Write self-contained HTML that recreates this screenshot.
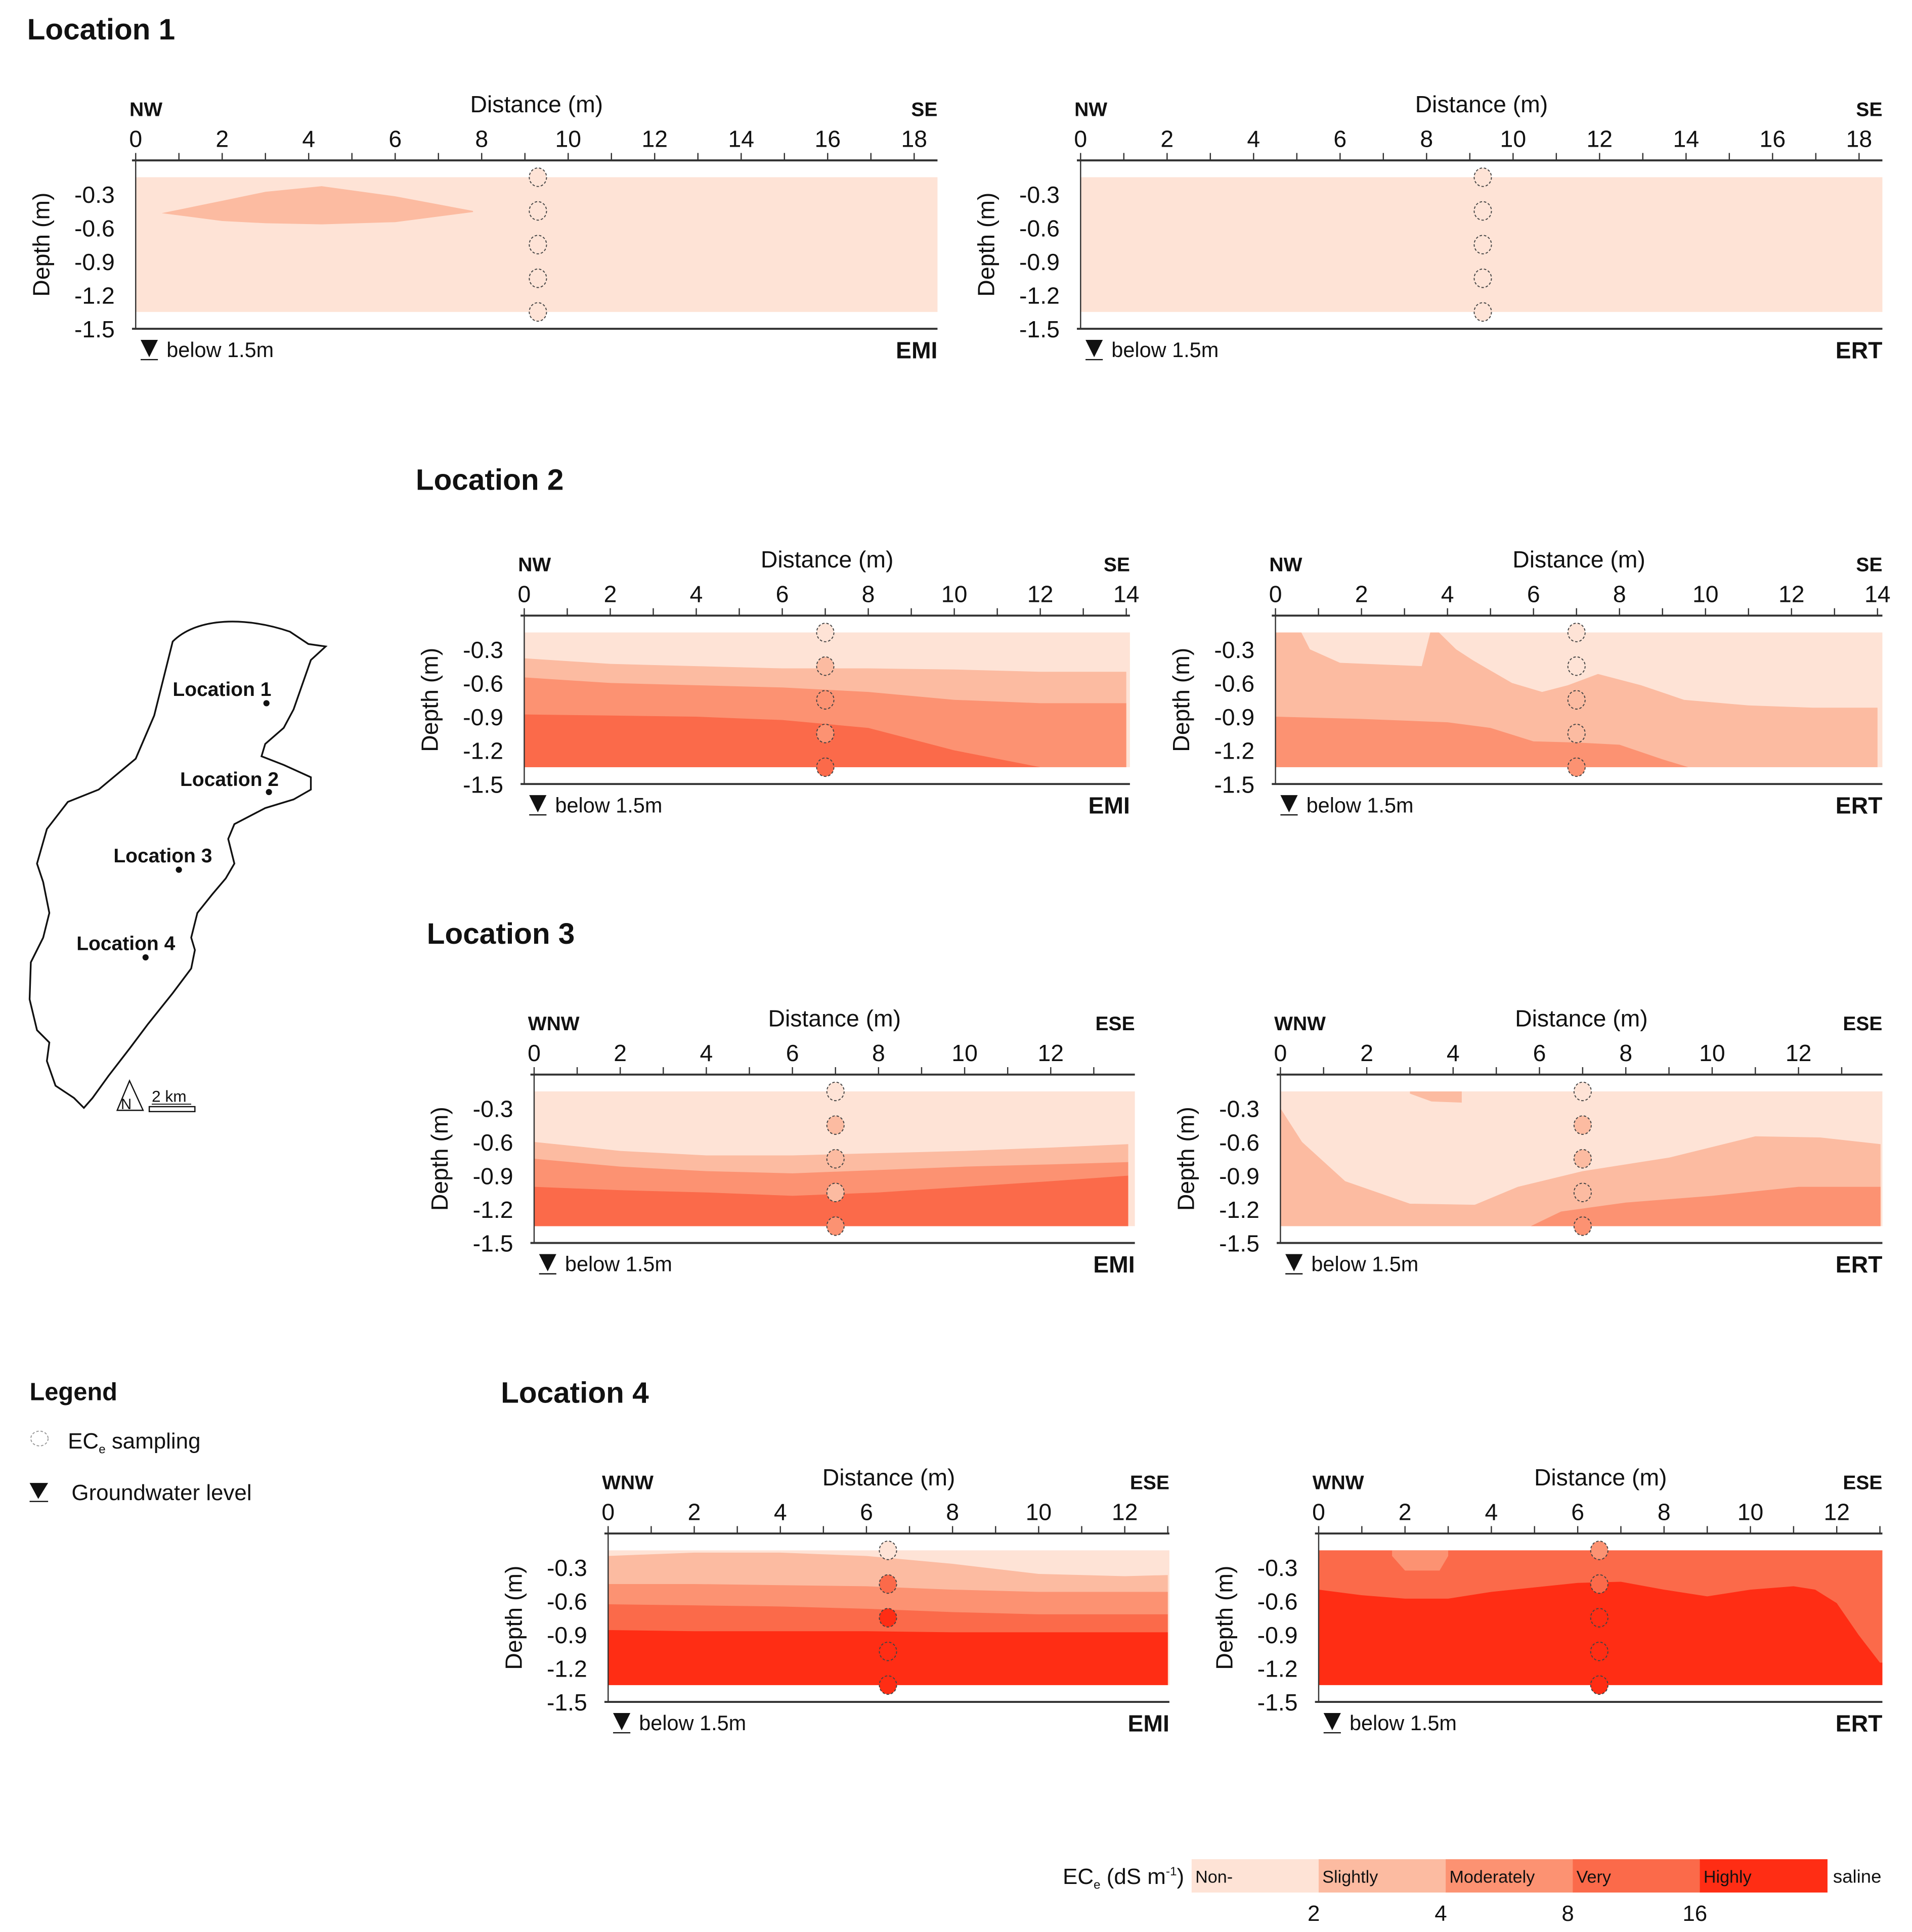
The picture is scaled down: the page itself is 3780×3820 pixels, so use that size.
<!DOCTYPE html>
<html><head><meta charset="utf-8">
<style>
html,body{margin:0;padding:0;background:#fff;}
svg{display:block;font-family:"Liberation Sans",Arial,sans-serif;}
</style></head>
<body>
<svg id="fig" width="3780" height="3820" viewBox="0 0 1550 1566" preserveAspectRatio="none" xmlns="http://www.w3.org/2000/svg"></svg>
<script>
// ---- data ----
const classNames = ["Non-","Slightly","Moderately","Very","Highly"];
const classColors = ["#fee3d6","#fcbba1","#fc9272","#fb6a4a","#ff2d14"];
const classThresholds = ["2","4","8","16"];
const depthTicks = [-0.3,-0.6,-0.9,-1.2,-1.5];
const sampleDepths = [-0.15,-0.45,-0.75,-1.05,-1.35];

// Location 1
const l1EmiLensXs = [0.6,2,3,4.3,6,7.8];
const l1EmiLensTop = [-0.47,-0.36,-0.28,-0.23,-0.32,-0.45];
const l1EmiLensBottom = [-0.47,-0.54,-0.56,-0.57,-0.55,-0.46];
const l1SampleClass = [0,0,0,0,0];

// Location 2 EMI
const l2EmiXs = [0,2,4,6,8,10,12,14];
const l2EmiSlight = [-0.38,-0.43,-0.45,-0.47,-0.47,-0.48,-0.5,-0.5];
const l2EmiModerate = [-0.55,-0.6,-0.62,-0.64,-0.68,-0.75,-0.78,-0.78];
const l2EmiVery = [-0.88,-0.89,-0.9,-0.93,-1.0,-1.2,-1.35,-1.35];
const l2EmiSampleClass = [0,1,2,2,3];
// Location 2 ERT
const l2ErtSlightXs = [0,0.6,0.8,1.5,3.4,3.6,3.8,4.2,4.6,5.5,6.2,6.8,7.5,8.5,9.5,11,12.5,14];
const l2ErtSlight = [-0.15,-0.15,-0.3,-0.42,-0.45,-0.15,-0.15,-0.3,-0.4,-0.6,-0.68,-0.62,-0.52,-0.62,-0.75,-0.8,-0.82,-0.82];
const l2ErtModXs = [0,2,4,5,6,7,8,9,9.6,14];
const l2ErtModerate = [-0.9,-0.92,-0.95,-1.0,-1.12,-1.13,-1.15,-1.28,-1.35,-1.35];
const l2ErtSampleClass = [0,0,1,1,2];

// Location 3 EMI
const l3EmiXs = [0,2,4,6,8,10,12,13.8];
const l3EmiSlight = [-0.6,-0.68,-0.72,-0.72,-0.7,-0.68,-0.65,-0.62];
const l3EmiModerate = [-0.75,-0.82,-0.86,-0.88,-0.85,-0.82,-0.8,-0.78];
const l3EmiVery = [-1.0,-1.03,-1.05,-1.08,-1.05,-1.0,-0.95,-0.9];
const l3EmiSampleClass = [0,1,1,1,2];
// Location 3 ERT
const l3ErtSlightXs = [0,0.5,1.5,3,4.5,5.5,7,9,11,12.5,13.9];
const l3ErtSlight = [-0.3,-0.6,-0.95,-1.15,-1.16,-1.0,-0.86,-0.74,-0.55,-0.56,-0.62];
const l3ErtLensXs = [3,3.5,4.2];
const l3ErtLensTop = [-0.15,-0.15,-0.15];
const l3ErtLensBottom = [-0.17,-0.24,-0.25];
const l3ErtModXs = [5.8,6.5,8,10,12,13.9];
const l3ErtModerate = [-1.35,-1.22,-1.14,-1.08,-1.0,-1.0];
const l3ErtSampleClass = [0,1,1,1,2];

// Location 4 EMI
const l4EmiXs = [0,2,4,6,8,10,12,13];
const l4EmiSlight = [-0.2,-0.17,-0.17,-0.2,-0.27,-0.36,-0.38,-0.37];
const l4EmiModerate = [-0.45,-0.45,-0.46,-0.47,-0.5,-0.52,-0.52,-0.52];
const l4EmiVery = [-0.63,-0.64,-0.65,-0.67,-0.7,-0.72,-0.72,-0.72];
const l4EmiHighly = [-0.86,-0.87,-0.87,-0.87,-0.88,-0.88,-0.88,-0.88];
const l4EmiSampleClass = [0,3,4,4,4];
// Location 4 ERT
const l4ErtHighXs = [0,1,2,3,4,5,6,7,8,9,10,11,11.5,12,12.5,13,13.5];
const l4ErtHighly = [-0.5,-0.55,-0.58,-0.58,-0.52,-0.48,-0.44,-0.43,-0.5,-0.56,-0.5,-0.47,-0.5,-0.62,-0.9,-1.15,-1.15];
const l4ErtBlobXs = [1.7,2.0,2.8,3.0];
const l4ErtBlobTop = [-0.15,-0.15,-0.15,-0.15];
const l4ErtBlobBottom = [-0.2,-0.33,-0.33,-0.2];
const l4ErtSampleClass = [2,3,4,4,4];

// ---- drawing ----
const NS="http://www.w3.org/2000/svg";
const svg=document.getElementById('fig');
function mk(tag,attrs,parent){const e=document.createElementNS(NS,tag);for(const k in attrs)e.setAttribute(k,attrs[k]);(parent||svg).appendChild(e);return e;}
function txt(s,x,y,size,opts,parent){opts=opts||{};const t=mk('text',{x:x,y:y,'font-size':size,'text-anchor':opts.anchor||'start','font-weight':opts.bold?'bold':'normal',fill:'#111'},parent);if(opts.rot)t.setAttribute('transform','rotate(-90 '+x+' '+y+')');t.textContent=s;return t;}

function panel(cfg){
  const g=mk('g',{});
  
  
  const X=v=>cfg.x0+v*cfg.pxm;
  const Y=d=>cfg.y0-d*91;
  const xEnd=cfg.xEnd;
  const base=mk('rect',{x:X(0),y:Y(-0.15),width:xEnd-X(0),height:Y(-1.35)-Y(-0.15),fill:classColors[0]},g);
  
  
  cfg.layers.forEach(L=>{
    let pts=[];
    if(L.bottom){
      L.xs.forEach((x,i)=>pts.push([X(x),Y(L.top[i])]));
      for(let i=L.xs.length-1;i>=0;i--)pts.push([X(L.xs[i]),Y(L.bottom[i])]);
    }else{
      L.xs.forEach((x,i)=>pts.push([Math.min(X(x),xEnd),Y(L.top[i])]));
      pts.push([Math.min(X(L.xs[L.xs.length-1]),xEnd),Y(-1.35)]);
      pts.push([X(L.xs[0]),Y(-1.35)]);
    }
    const p=mk('polygon',{points:pts.map(p=>p.join(',')).join(' '),fill:classColors[L.cls]},g);
    
    
  });
  mk('line',{x1:X(0)-3,y1:cfg.y0,x2:xEnd,y2:cfg.y0,stroke:'#333','stroke-width':1.6},g);
  mk('line',{x1:X(0)-3,y1:Y(-1.5),x2:xEnd,y2:Y(-1.5),stroke:'#333','stroke-width':1.6},g);
  mk('line',{x1:X(0),y1:cfg.y0,x2:X(0),y2:Y(-1.5),stroke:'#333','stroke-width':1},g);
  for(let m=0;X(m)<=xEnd+0.5;m++){
    mk('line',{x1:X(m),y1:cfg.y0,x2:X(m),y2:cfg.y0-6,stroke:'#333','stroke-width':1},g);
    if(m%2===0){const t=txt(String(m),X(m),cfg.y0-11,19,{anchor:'middle'},g);}
  }
  depthTicks.forEach(d=>{const t=txt(d.toFixed(1),X(0)-17,Y(d)+7,19,{anchor:'end'},g);});
  const xt=txt('Distance (m)',(X(0)+xEnd)/2,cfg.y0-39,19,{anchor:'middle'},g);
  
  const yt=txt('Depth (m)',X(0)-70,Y(-0.75),19,{anchor:'middle',rot:true},g);
  
  const dl=txt(cfg.dirL,X(0)-5,cfg.y0-36,16,{bold:true},g);
  const dr=txt(cfg.dirR,xEnd,cfg.y0-36,16,{anchor:'end',bold:true},g);
  const gy=Y(-1.5)+17;
  const tri=mk('polygon',{points:(X(0)+4)+','+(gy-8)+' '+(X(0)+18)+','+(gy-8)+' '+(X(0)+11)+','+(gy+6),fill:'#111'},g);
  
  mk('line',{x1:X(0)+4,y1:gy+8,x2:X(0)+18,y2:gy+8,stroke:'#111','stroke-width':1},g);
  const bl=txt('below 1.5m',X(0)+25,gy+6,17,{},g);
  const mt=txt(cfg.method,xEnd,gy+7,19,{anchor:'end',bold:true},g);
  sampleDepths.forEach((d,i)=>{
    const c=mk('ellipse',{cx:X(cfg.sx),cy:Y(d),rx:7,ry:7.5,fill:classColors[cfg.samples[i]],stroke:'#444','stroke-width':0.8,'stroke-dasharray':'2,1.5'},g);
    
    
  });
}

function title(s,x,y){const t=txt(s,x,y,24,{bold:true});}
title('Location 1',22,32);title('Location 2',337,397);title('Location 3',346,765);title('Location 4',406,1137);

panel({name:'location1-emi-profile',x0:110,pxm:35.06,y0:130,xEnd:760,dirL:'NW',dirR:'SE',method:'EMI',sx:9.3,samples:l1SampleClass,
 layers:[{xs:l1EmiLensXs,top:l1EmiLensTop,bottom:l1EmiLensBottom,cls:1,label:'slightly-saline-zone'}]});
panel({name:'location1-ert-profile',x0:876,pxm:35.06,y0:130,xEnd:1526,dirL:'NW',dirR:'SE',method:'ERT',sx:9.3,samples:l1SampleClass,layers:[]});

panel({name:'location2-emi-profile',x0:425,pxm:34.86,y0:499,xEnd:916,dirL:'NW',dirR:'SE',method:'EMI',sx:7,samples:l2EmiSampleClass,
 layers:[{xs:l2EmiXs,top:l2EmiSlight,cls:1,label:'slightly-saline-zone'},{xs:l2EmiXs,top:l2EmiModerate,cls:2,label:'moderately-saline-zone'},{xs:l2EmiXs,top:l2EmiVery,cls:3,label:'very-saline-zone'}]});
panel({name:'location2-ert-profile',x0:1034,pxm:34.86,y0:499,xEnd:1526,dirL:'NW',dirR:'SE',method:'ERT',sx:7,samples:l2ErtSampleClass,
 layers:[{xs:l2ErtSlightXs,top:l2ErtSlight,cls:1,label:'slightly-saline-zone'},{xs:l2ErtModXs,top:l2ErtModerate,cls:2,label:'moderately-saline-zone'}]});

panel({name:'location3-emi-profile',x0:433,pxm:34.9,y0:871,xEnd:920,dirL:'WNW',dirR:'ESE',method:'EMI',sx:7,samples:l3EmiSampleClass,
 layers:[{xs:l3EmiXs,top:l3EmiSlight,cls:1,label:'slightly-saline-zone'},{xs:l3EmiXs,top:l3EmiModerate,cls:2,label:'moderately-saline-zone'},{xs:l3EmiXs,top:l3EmiVery,cls:3,label:'very-saline-zone'}]});
panel({name:'location3-ert-profile',x0:1038,pxm:35,y0:871,xEnd:1526,dirL:'WNW',dirR:'ESE',method:'ERT',sx:7,samples:l3ErtSampleClass,
 layers:[{xs:l3ErtSlightXs,top:l3ErtSlight,cls:1,label:'slightly-saline-zone'},{xs:l3ErtLensXs,top:l3ErtLensTop,bottom:l3ErtLensBottom,cls:1,label:'slightly-saline-lens'},{xs:l3ErtModXs,top:l3ErtModerate,cls:2,label:'moderately-saline-zone'}]});

panel({name:'location4-emi-profile',x0:493,pxm:34.9,y0:1243,xEnd:948,dirL:'WNW',dirR:'ESE',method:'EMI',sx:6.5,samples:l4EmiSampleClass,
 layers:[{xs:l4EmiXs,top:l4EmiSlight,cls:1,label:'slightly-saline-zone'},{xs:l4EmiXs,top:l4EmiModerate,cls:2,label:'moderately-saline-zone'},{xs:l4EmiXs,top:l4EmiVery,cls:3,label:'very-saline-zone'},{xs:l4EmiXs,top:l4EmiHighly,cls:4,label:'highly-saline-zone'}]});
panel({name:'location4-ert-profile',x0:1069,pxm:35,y0:1243,xEnd:1526,dirL:'WNW',dirR:'ESE',method:'ERT',sx:6.5,samples:l4ErtSampleClass,
 layers:[{xs:[0,13.5],top:[-0.15,-0.15],cls:3,label:'very-saline-zone'},{xs:l4ErtBlobXs,top:l4ErtBlobTop,bottom:l4ErtBlobBottom,cls:2,label:'moderately-saline-patch'},{xs:l4ErtHighXs,top:l4ErtHighly,cls:4,label:'highly-saline-zone'}]});

// map
const mapG=mk('g',{});


const outline=mk('path',{d:'M140,520 C160,500 200,500 235,512 L250,522 L264,524 L252,535 L245,555 L238,575 L230,590 L215,603 L212,613 L230,620 L252,630 L252,640 L238,648 L215,655 L190,668 L185,680 L190,700 L183,712 L172,725 L160,740 L155,760 L158,770 L155,785 L140,805 L120,830 L105,850 L88,872 L75,890 L68,898 L60,890 L45,880 L38,860 L40,845 L30,835 L24,810 L25,780 L35,760 L40,740 L35,715 L30,700 L38,672 L55,650 L80,640 L110,615 L125,580 L135,540 Z',fill:'none',stroke:'#111','stroke-width':1.4},mapG);


[['Location 1',140,564,216,570],['Location 2',146,637,218,642],['Location 3',92,699,145,705],['Location 4',62,770,118,776]].forEach(a=>{
  const t=txt(a[0],a[1],a[2],16,{bold:true},mapG);
  const d=mk('circle',{cx:a[3],cy:a[4],r:2.5,fill:'#111'},mapG);
});
const na=mk('polygon',{points:'95,900 105,876 116,900',fill:'none',stroke:'#111','stroke-width':1},mapG);
txt('N',98,899,12,{},mapG);
mk('rect',{x:121,y:897,width:37,height:4,fill:'none',stroke:'#111','stroke-width':1},mapG);
const sk=txt('2 km',123,893,13,{},mapG);
mk('line',{x1:123,y1:895,x2:155,y2:895,stroke:'#111','stroke-width':0.8},mapG);

// legend
const lg=mk('g',{});


txt('Legend',24,1135,20,{bold:true},lg);
mk('ellipse',{cx:32,cy:1166,rx:7,ry:6,fill:'none',stroke:'#999','stroke-width':0.8,'stroke-dasharray':'2,1.5'},lg);
const le=mk('text',{x:55,y:1174,'font-size':18,fill:'#111'},lg);le.innerHTML='EC<tspan font-size="10" dy="4">e</tspan><tspan dy="-4"> sampling</tspan>';
mk('polygon',{points:'24,1202 39,1202 31,1215',fill:'#111'},lg);
mk('line',{x1:24,y1:1217,x2:39,y2:1217,stroke:'#111','stroke-width':1},lg);
txt('Groundwater level',58,1216,18,{},lg);

// color bar
const cb=mk('g',{});


const cbt=mk('text',{x:960,y:1527,'font-size':18,fill:'#111','text-anchor':'end'},cb);
cbt.innerHTML='EC<tspan font-size="10" dy="4">e</tspan><tspan dy="-4"> (dS m</tspan><tspan font-size="10" dy="-7">-1</tspan><tspan dy="7">)</tspan>';
const cbX=966,cbW=103;
classNames.forEach((n,i)=>{
  const r=mk('rect',{x:cbX+i*cbW,y:1507,width:cbW+0.5,height:27,fill:classColors[i]},cb);
  
  
  txt(n,cbX+i*cbW+3,1526,14,{},cb);
});
txt('saline',cbX+5*cbW+5,1526,15,{},cb);
classThresholds.forEach((s,i)=>{const t=txt(s,cbX+(i+1)*cbW-4,1557,18,{anchor:'middle'},cb);});
</script>
</body></html>
